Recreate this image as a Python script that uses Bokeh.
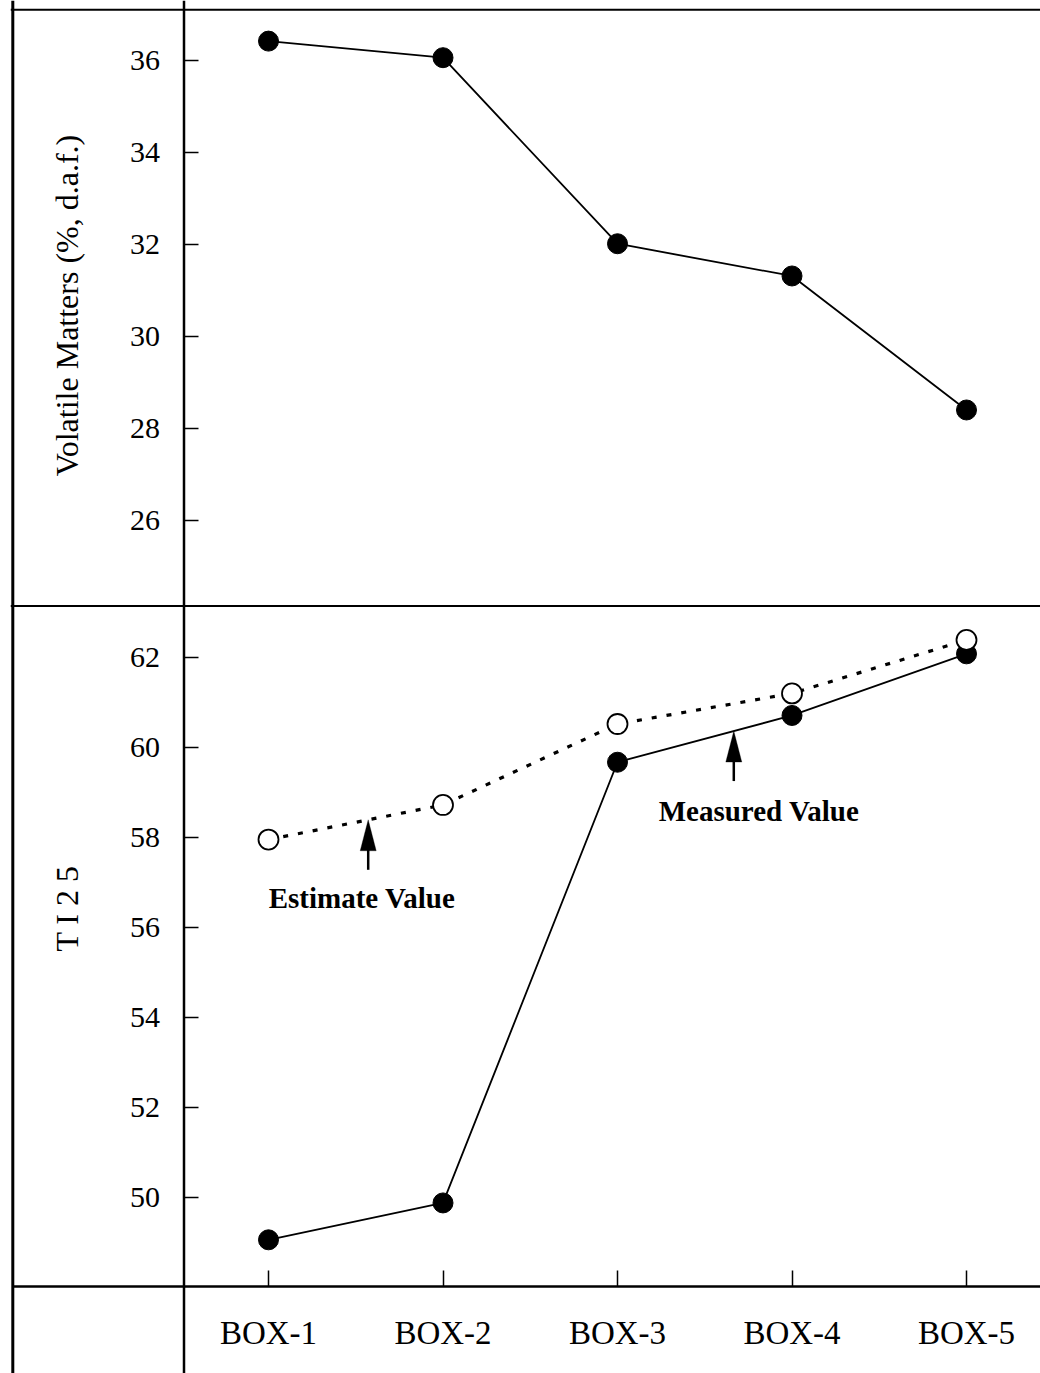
import math
import numpy as np
from bokeh.plotting import figure
from bokeh.models import (Range1d, LinearAxis, FixedTicker, Span, Label,
                          Arrow, PolyAnnotation)
from bokeh.embed import file_html
from bokeh.resources import INLINE

# ---------------- data ----------------
boxes = ["BOX-1", "BOX-2", "BOX-3", "BOX-4", "BOX-5"]
box_pos = [1, 2, 3, 4, 5]
volatile_matters = [36.41, 36.05, 32.01, 31.31, 28.40]
ti25_measured = [49.06, 49.88, 59.68, 60.72, 62.09]
ti25_estimated = [57.96, 58.73, 60.53, 61.21, 62.40]
vm_ticks = [26, 28, 30, 32, 34, 36]
ti_ticks = [50, 52, 54, 56, 58, 60, 62]

FONT = "Liberation Serif"
W, H = 1040, 1373
ML = 10  # left min border

# ---------------- page-pixel -> data helpers (layout only) ----------------
PX0, PXS = 268.0, 174.5        # page x of BOX-1, px per box
TI_Y0, TI_S = 657.4, 44.97     # page y of TI 62, px per unit
VM_Y0, VM_S = 59.5, 46.05      # page y of VM 36, px per unit


def xd(px):
    return 1 + (px - PX0) / PXS


def ti(py):
    return 62 - (py - TI_Y0) / TI_S


def vm(py):
    return 36 - (py - VM_Y0) / VM_S


p = figure(width=W, height=H,
           x_range=Range1d(xd(ML), xd(W)),
           y_range=Range1d(ti(H), ti(0)),
           x_axis_type=None, y_axis_type=None,
           toolbar_location=None, output_backend="svg",
           min_border_left=ML, min_border_right=0,
           min_border_top=0, min_border_bottom=0,
           outline_line_color=None,
           background_fill_color="white", border_fill_color="white")
p.extra_y_ranges = {"vm": Range1d(vm(H), vm(0))}

# ---------------- frame lines ----------------
p.add_layout(Span(location=xd(12.3), dimension="height", line_color="black", line_width=3))
p.add_layout(Span(location=xd(183.5), dimension="height", line_color="black", line_width=2.5))
p.add_layout(Span(location=ti(9.3), dimension="width", line_color="black", line_width=2))
p.add_layout(Span(location=ti(605.5), dimension="width", line_color="black", line_width=2))

# ---------------- axes ----------------
common = dict(axis_line_color=None, major_tick_in=14, major_tick_out=0,
              major_tick_line_width=1.5, major_tick_line_color="black",
              minor_tick_line_color=None, major_label_standoff=24,
              major_label_text_font=FONT, major_label_text_font_size="30px",
              major_label_text_color="black")
vm_axis = LinearAxis(y_range_name="vm", fixed_location=xd(183.5),
                     ticker=FixedTicker(ticks=vm_ticks), **common)
p.add_layout(vm_axis, "left")
ti_axis = LinearAxis(fixed_location=xd(183.5),
                     ticker=FixedTicker(ticks=ti_ticks), **common)
p.add_layout(ti_axis, "left")

x_axis = LinearAxis(fixed_location=ti(1285.7), bounds=(xd(12), xd(W)),
                    ticker=FixedTicker(ticks=box_pos),
                    major_label_overrides={b: s for b, s in zip(box_pos, boxes)},
                    axis_line_color="black", axis_line_width=2.5,
                    major_tick_in=16, major_tick_out=0,
                    major_tick_line_width=1.5, major_tick_line_color="black",
                    minor_tick_line_color=None, major_label_standoff=29,
                    major_label_text_font=FONT, major_label_text_font_size="33px",
                    major_label_text_color="black")
p.add_layout(x_axis, "below")

# ---------------- data marks ----------------
p.line(box_pos, volatile_matters, y_range_name="vm", line_color="black", line_width=1.8)
p.scatter(box_pos, volatile_matters, y_range_name="vm", size=20,
          fill_color="black", line_color="black")

p.line(box_pos, ti25_estimated, line_color="black", line_width=3.2, line_dash="5 10")
p.line(box_pos, ti25_measured, line_color="black", line_width=1.8)
p.scatter(box_pos, ti25_measured, size=20, fill_color="black", line_color="black")
p.scatter(box_pos, ti25_estimated, size=20, fill_color="white", line_color="black",
          line_width=1.8)

# ---------------- annotations ----------------
for xa, series, text, lx, ly in [
        (xd(367.7), ti25_estimated, "Estimate Value", xd(361.5), ti(897)),
        (xd(733.3), ti25_measured, "Measured Value", xd(758.5), ti(810))]:
    tip = float(np.interp(xa, box_pos, series))
    tail = tip - 50 / TI_S
    p.add_layout(Arrow(end=None, x_start=xa, y_start=tail, x_end=xa,
                       y_end=tip - 20 / TI_S, line_color="black", line_width=2.5))
    hl, hw = 31 / TI_S, 8 / PXS
    p.add_layout(PolyAnnotation(xs=[xa - hw, xa, xa + hw], ys=[tip - hl, tip, tip - hl],
                                fill_color="black", fill_alpha=1.0,
                                line_color="black", line_width=1))
    p.add_layout(Label(x=lx, y=ly, text=text, text_font=FONT, text_font_size="29px",
                       text_font_style="bold", text_align="center",
                       text_baseline="middle", text_color="black"))

p.add_layout(Label(x=xd(66), y=vm(305), y_range_name="vm",
                   text="Volatile Matters (%, d.a.f.)", angle=math.pi / 2,
                   text_font=FONT, text_font_size="32px", text_align="center",
                   text_baseline="middle", text_color="black"))
p.add_layout(Label(x=xd(66), y=ti(908), text="T I 2 5", angle=math.pi / 2,
                   text_font=FONT, text_font_size="32px", text_align="center",
                   text_baseline="middle", text_color="black"))

open("out.html", "w").write(file_html(p, INLINE))
